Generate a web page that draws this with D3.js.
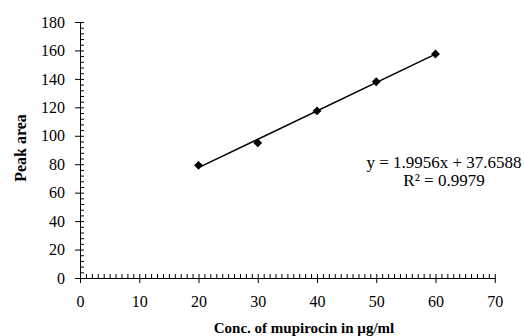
<!DOCTYPE html>
<html>
<head>
<meta charset="utf-8">
<script src="https://cdn.jsdelivr.net/npm/d3@7"></script>
<style>
  body { margin: 0; background: #fff; }
  text { font-family: "Liberation Serif", "DejaVu Serif", serif; fill: #000; }
</style>
</head>
<body>
<div id="chart"></div>
<script>
// data
const conc = [20, 30, 40, 50, 60]
const peakArea = [79.2, 95, 117.5, 138, 157.5]
const slope = 1.9956,
      intercept = 37.6588
const xTicks = [0, 10, 20, 30, 40, 50, 60, 70]
const yTicks = [0, 20, 40, 60, 80, 100, 120, 140, 160, 180]
const eqLabels = ['y = 1.9956x + 37.6588', 'R\u00B2 = 0.9979']

const width = 525,
      height = 336,
      plotLeft = 80,
      plotRight = 494.75,
      plotTop = 22,
      plotBottom = 278

let svg = d3.select('#chart')
  .append('svg')
  .attr('width', width)
  .attr('height', height)

let x = d3.scaleLinear().domain([0, 70]).range([plotLeft, plotRight])
let y = d3.scaleLinear().domain([0, 180]).range([plotBottom, plotTop])

// minor ticks, inside the plot
svg.append('g')
  .attr('transform', `translate(0, ${plotBottom})`)
  .call(d3.axisTop(x).tickValues(d3.range(0, 71, 1)).tickSize(4).tickFormat(''))
  .call(g => g.select('.domain').remove())

svg.append('g')
  .attr('transform', `translate(${plotLeft}, 0)`)
  .call(d3.axisRight(y).tickValues(d3.range(0, 181, 4)).tickSize(4).tickFormat(''))
  .call(g => g.select('.domain').remove())

// major axes
svg.append('g')
  .attr('transform', `translate(0, ${plotBottom})`)
  .call(d3.axisBottom(x).tickValues(xTicks).tickSize(5).tickSizeOuter(0).tickPadding(13))
  .call(g => g.selectAll('text').style('font-size', '16px'))

svg.append('g')
  .attr('transform', `translate(${plotLeft}, 0)`)
  .call(d3.axisLeft(y).tickValues(yTicks).tickSize(5).tickSizeOuter(0).tickPadding(10))
  .call(g => g.selectAll('text').style('font-size', '16px'))

svg.selectAll('.domain, .tick line').attr('stroke', '#000')

// trend line
svg.append('line')
  .attr('x1', x(conc[0]))
  .attr('y1', y(slope * conc[0] + intercept))
  .attr('x2', x(conc[conc.length - 1]))
  .attr('y2', y(slope * conc[conc.length - 1] + intercept))
  .attr('stroke', '#000')
  .attr('stroke-width', 1.5)

// diamonds
svg.selectAll('.pt')
  .data(conc)
  .enter()
  .append('path')
  .attr('class', 'pt')
  .attr('d', d3.symbol().type(d3.symbolDiamond2).size(50))
  .attr('transform', (d, i) => `translate(${x(d)}, ${y(peakArea[i])})`)
  .attr('fill', '#000')

// equation
svg.selectAll('.eq')
  .data(eqLabels)
  .enter()
  .append('text')
  .attr('class', 'eq')
  .attr('x', 444)
  .attr('y', (d, i) => 168 + i * 18)
  .attr('text-anchor', 'middle')
  .style('font-size', '17px')
  .text(d => d)

// axis titles
svg.append('text')
  .attr('x', 304)
  .attr('y', 333)
  .attr('text-anchor', 'middle')
  .style('font-size', '15px')
  .style('font-weight', 'bold')
  .text('Conc. of mupirocin in \u00B5g/ml')

svg.append('text')
  .attr('transform', `translate(26, 148) rotate(-90)`)
  .attr('text-anchor', 'middle')
  .style('font-size', '16px')
  .style('font-weight', 'bold')
  .text('Peak area')
</script>
</body>
</html>
